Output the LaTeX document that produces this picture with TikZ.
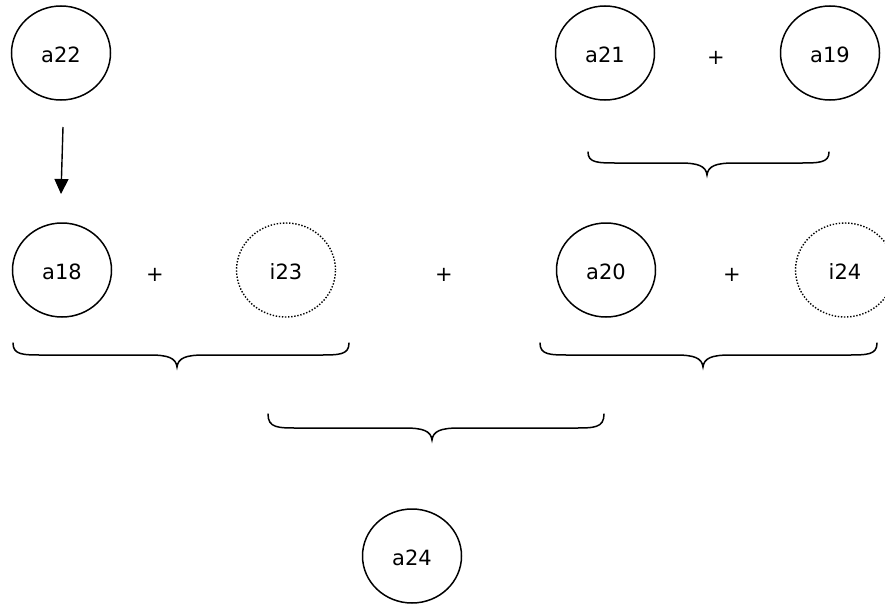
\documentclass[tikz,border=0pt]{standalone}
\usepackage{fontspec}
\setmainfont{DejaVu Sans}
\usetikzlibrary{shapes.geometric,arrows.meta}
\begin{document}
\begin{tikzpicture}[x=1pt,y=-1pt,
  circ/.style={ellipse,draw,line width=1.5pt,minimum width=99pt,minimum height=94pt,inner sep=0pt,
    font=\fontsize{21}{25}\selectfont,text height=19pt,text depth=0pt},
  dotcirc/.style={circ,line width=1.4pt,dash pattern=on 1.4pt off 1.7pt},
  plus/.style={font=\fontsize{21}{25}\selectfont,inner sep=0pt},
  bracepath/.style={line width=1.5pt,line cap=round},
  arr/.style={line width=1.4pt,-{Triangle[width=14pt,length=15pt]}}]
\useasboundingbox (0,0) rectangle (885,605);
% top row
\node[circ] (a22) at (61,53) {a22};
\node[circ] (a21) at (605,53) {a21};
\node[plus] (p1) at (716,58) {+};
\node[circ] (a19) at (830,53) {a19};
% arrow
\coordinate (ar1) at (63,127);
\coordinate (ar2) at (61,194);
\draw[arr] (ar1) -- (ar2);
% top brace
\draw[bracepath] (588,152) .. controls (588,163) and (598,163) .. (618,163) -- (680,163)
  .. controls (698,163) and (706,166) .. (707,175)
  .. controls (708,166) and (716,163) .. (734,163) -- (799,163)
  .. controls (819,163) and (829,163) .. (829,152);
% second row
\node[circ] (a18) at (62,270) {a18};
\node[plus] (p2) at (155,275) {+};
\node[dotcirc] (i23) at (286,270) {i23};
\node[plus] (p3) at (444,275) {+};
\node[circ] (a20) at (606,270) {a20};
\node[plus] (p4) at (732,275) {+};
\node[dotcirc] (i24) at (845,270) {i24};
% second-row braces
\draw[bracepath] (13,343) .. controls (13,355) and (23,355) .. (43,355) -- (150,355)
  .. controls (168,355) and (176,358) .. (177,367)
  .. controls (178,358) and (186,355) .. (204,355) -- (319,355)
  .. controls (339,355) and (349,355) .. (349,343);
\draw[bracepath] (540,343) .. controls (540,355) and (550,355) .. (570,355) -- (676,355)
  .. controls (694,355) and (702,358) .. (703,367)
  .. controls (704,358) and (712,355) .. (730,355) -- (847,355)
  .. controls (867,355) and (877,355) .. (877,343);
% bottom brace
\draw[bracepath] (268,414) .. controls (268,428) and (278,428) .. (298,428) -- (405,428)
  .. controls (423,428) and (431,431) .. (432,440)
  .. controls (433,431) and (441,428) .. (459,428) -- (574,428)
  .. controls (594,428) and (604,428) .. (604,414);
% result
\node[circ] (a24) at (412,556) {a24};
\end{tikzpicture}
\end{document}
